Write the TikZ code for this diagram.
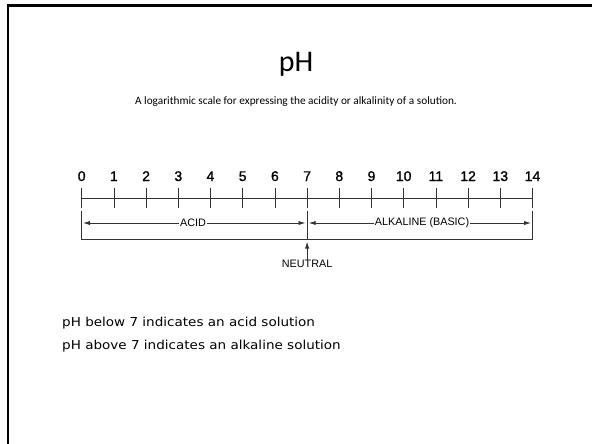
\documentclass[tikz,border=0pt]{standalone}
\usepackage{fontspec}
\setmainfont{Liberation Sans}
\newfontfamily\calibrifont{Carlito}
\newfontfamily\bodyfont[FakeStretch=1.1]{DejaVu Sans}
\newfontfamily\numfont[FakeBold=1.2]{Liberation Sans}
\usetikzlibrary{arrows.meta}
\begin{document}
\begin{tikzpicture}[x=1pt,y=-1pt,
  frame/.style={line width=2.4pt,black},
  scaleline/.style={line width=0.8pt,black!80},
  numlabel/.style={anchor=base,inner sep=0pt,font=\numfont\fontsize{14}{16}\selectfont},
  rangelabel/.style={fill=white,inner sep=1pt,font=\fontsize{10.8}{12}\selectfont},
  rangearrow/.style={scaleline,-{Latex[length=7pt,width=4.2pt]}},
  bodytext/.style={anchor=base west,inner sep=0pt,font=\bodyfont\fontsize{12.3}{14}\selectfont}]
\useasboundingbox (0,0) rectangle (592,444);
% slide frame
\coordinate (fl) at (8,444);
\coordinate (ftl) at (8,5.5);
\coordinate (fr) at (592,5.5);
\draw[frame] (fl) -- (ftl) -- (fr);
% title
\node[anchor=base,inner sep=0pt,font=\calibrifont\fontsize{30}{34}\selectfont] (title) at (296,71) {pH};
\node[anchor=base,inner sep=0pt,font=\calibrifont\fontsize{11.3}{13}\selectfont] (sub) at (296,104) {A logarithmic scale for expressing the acidity or alkalinity of a solution.};
% scale
\foreach \i in {0,...,14}{
  \coordinate (t\i) at ({81.7+32.2*\i},198);
  \coordinate (tu\i) at ({81.7+32.2*\i},188);
  \coordinate (td\i) at ({81.7+32.2*\i},208);
  \node[numlabel] (n\i) at ({81.7+32.2*\i},181) {\i};
  \draw[scaleline] (tu\i) -- (td\i);
}
\draw[scaleline] (t0) -- (t14);
% bracket
\coordinate (b0t) at (81.7,211);
\coordinate (b0b) at (81.7,239);
\coordinate (b7t) at (307.1,211);
\coordinate (b7b) at (307.1,239);
\coordinate (b14t) at (532.5,211);
\coordinate (b14b) at (532.5,239);
\draw[scaleline] (b0t) -- (b0b) -- (b14b) -- (b14t);
\draw[scaleline] (b7t) -- (b7b);
% ranges
\coordinate (a1) at (83,223);
\coordinate (a2) at (305.5,223);
\coordinate (a3) at (308.7,223);
\coordinate (a4) at (531,223);
\node[rangelabel] (acid) at (193,223) {ACID};
\node[rangelabel] (alk) at (422,223) {ALKALINE (BASIC)};
\draw[rangearrow] (acid.west) -- (a1);
\draw[rangearrow] (acid.east) -- (a2);
\draw[rangearrow] (alk.west) -- (a3);
\draw[rangearrow] (alk.east) -- (a4);
% neutral
\node[inner sep=0pt,font=\fontsize{10.8}{12}\selectfont] (neutral) at (307.1,263.5) {NEUTRAL};
\coordinate (np) at (307.1,241.5);
\draw[rangearrow] ([yshift=-1pt]neutral.north) -- (np);
% body text
\node[bodytext] (l1) at (62,326) {pH below 7 indicates an acid solution};
\node[bodytext] (l2) at (62,349) {pH above 7 indicates an alkaline solution};
\end{tikzpicture}
\end{document}
